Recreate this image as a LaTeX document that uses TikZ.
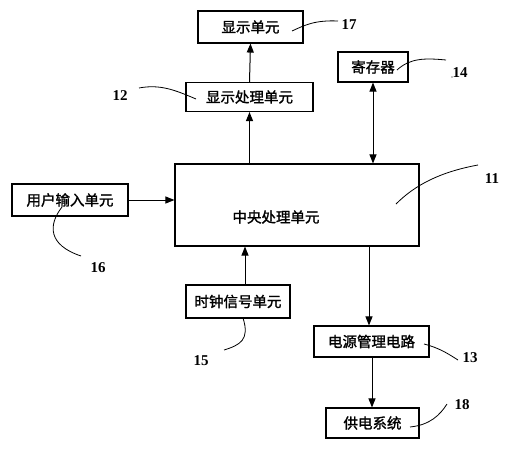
\documentclass[tikz,border=0pt]{standalone}
\usepackage{fontspec}
\setmainfont{Liberation Serif}
\newfontfamily\cjk{Noto Sans CJK SC}[FakeBold=1.5]
\usetikzlibrary{arrows.meta}
\begin{document}
\begin{tikzpicture}[x=1pt,y=-1pt,
  box/.style={draw,line width=1.1pt,inner sep=0pt,font=\cjk\fontsize{14.5}{14.5}\selectfont},
  arr/.style={line width=1pt,-{Triangle[length=9pt,width=7pt]}},
  darr/.style={line width=1pt,{Triangle[length=9pt,width=7pt]}-{Triangle[length=9pt,width=7pt]}},
  lead/.style={line width=0.8pt},
  num/.style={font=\fontsize{15}{15}\selectfont\bfseries,inner sep=0pt}]
\useasboundingbox (0,0) rectangle (507,450);
% boxes
\node[box,minimum width=105pt,minimum height=32pt] (disp) at (250.5,27) {显示单元};
\node[box,minimum width=127pt,minimum height=29pt] (dproc) at (249.5,97) {显示处理单元};
\node[box,minimum width=70pt,minimum height=30pt] (reg) at (373,67) {寄存器};
\node[box,minimum width=244pt,minimum height=82pt] (cpu) at (297,205) {};
\node[font=\cjk\fontsize{14.5}{14.5}\selectfont] (cputxt) at (276,217) {中央处理单元};
\node[box,minimum width=116pt,minimum height=32pt] (user) at (70,200) {用户输入单元};
\node[box,minimum width=104pt,minimum height=33pt] (clk) at (238,301.5) {时钟信号单元};
\node[box,minimum width=115pt,minimum height=31pt] (pwr) at (371.5,341.5) {电源管理电路};
\node[box,minimum width=93pt,minimum height=30pt] (sup) at (372.5,423) {供电系统};
% connectors
\draw[arr] (dproc.north) -- (disp.south);
\draw[arr] (cpu.north -| dproc.north) -- (dproc.south);
\draw[darr] (reg.south) -- (cpu.north -| reg.south);
\draw[arr] (user.east) -- (cpu.west |- user.east);
\draw[arr] (clk.north -| 245,0) -- (cpu.south -| 245,0);
\coordinate (cpuout) at (cpu.south -| 369,0);
\draw[arr] (cpuout) -- (pwr.north -| 369,0);
\draw[arr] (pwr.south -| 372,0) -- (sup.north -| 372,0);
% labels
\node[num] (n17) at (349,25) {17};
\node[num] (n12) at (120,96) {12};
\node[num] (n14) at (460,73) {14};
\node[num] (n11) at (492,179) {11};
\node[num] (n16) at (98,268) {16};
\node[num] (n15) at (201,361) {15};
\node[num] (n13) at (470,358) {13};
\node[num] (n18) at (462,405) {18};
\fill (452,77) circle (0.7pt);
% leaders
\draw[lead] (292,31) .. controls (305,25) and (315,20) .. (338,21);
\draw[lead] (139,88) .. controls (160,84) and (175,90) .. (196,99);
\draw[lead] (397,70) .. controls (410,58) and (425,58) .. (446,60);
\draw[lead] (396,204) .. controls (415,185) and (440,172) .. (478,165);
\draw[lead] (62,207) .. controls (48,225) and (48,245) .. (81,256);
\draw[lead] (243,318) .. controls (250,340) and (240,345) .. (224,350);
\draw[lead] (424,344) .. controls (440,348) and (450,355) .. (458,360);
\draw[lead] (410,427) .. controls (430,425) and (440,415) .. (447,404);
\end{tikzpicture}
\end{document}
